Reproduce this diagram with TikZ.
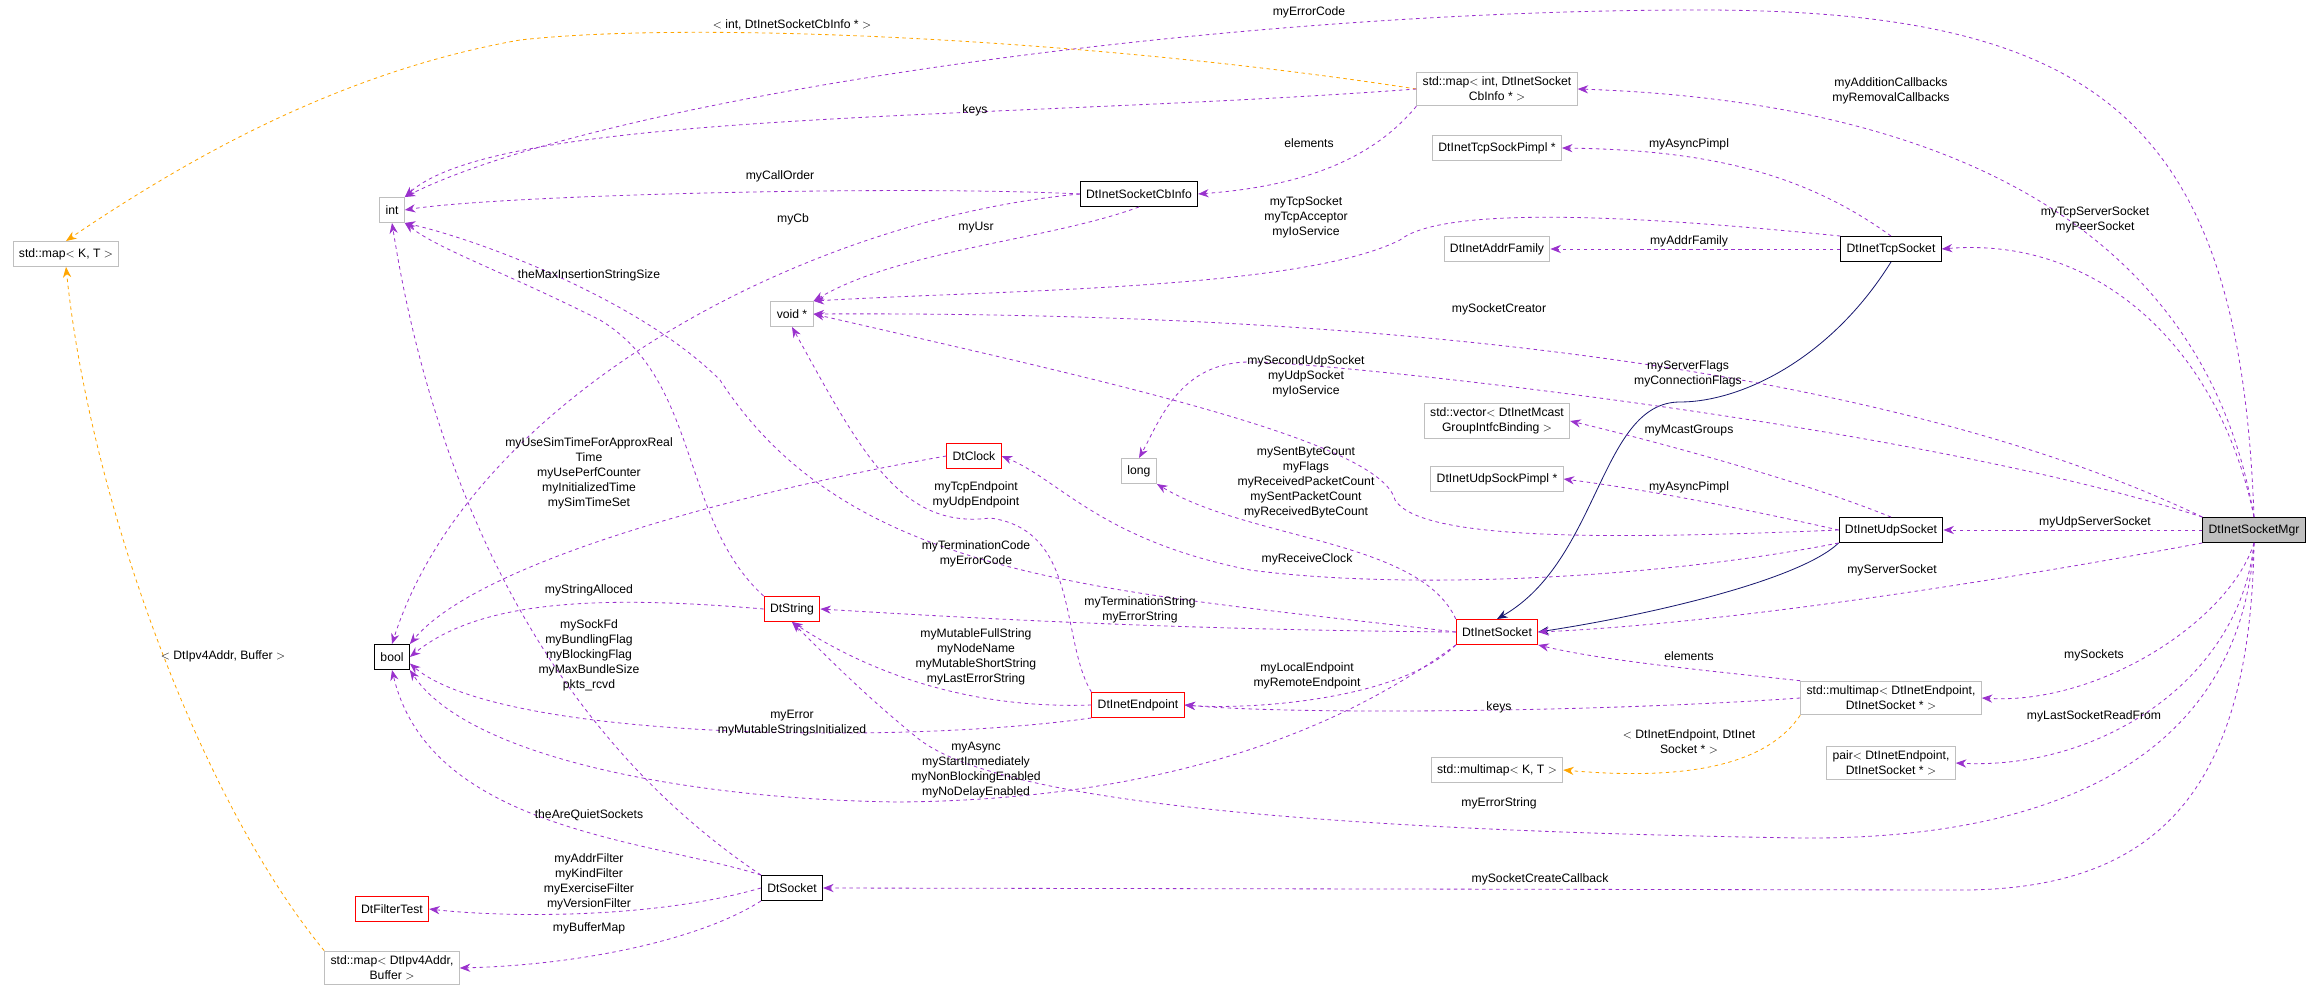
\documentclass[tikz,border=0pt]{standalone}
\usepackage{fontspec}
\setmainfont{Liberation Sans}
\usetikzlibrary{arrows.meta}
\definecolor{usecol}{HTML}{9A32CD}
\definecolor{tmplcol}{HTML}{FFA500}
\definecolor{inhcol}{HTML}{191970}
\definecolor{boxgray}{HTML}{BFBFBF}
\tikzset{
  cls/.style={draw, rectangle, font=\fontsize{10.4}{12.8}\selectfont, inner xsep=5pt, inner ysep=4pt, minimum height=0.75cm, align=center, fill=white, line width=0.8pt},
  ext/.style={cls, draw=boxgray},
  bad/.style={cls, draw=red},
  ok/.style={cls, draw=black},
  lbl/.style={font=\fontsize{10.4}{12.8}\selectfont, align=center, inner sep=0pt},
  use/.style={usecol, dashed, line width=0.7pt, -{Stealth[length=9pt,width=7pt]}},
  tmpl/.style={tmplcol, dashed, line width=0.7pt, -{Stealth[length=9pt,width=7pt]}},
  inh/.style={inhcol, line width=0.7pt, -{Stealth[length=9pt,width=7pt]}}
}
\begin{document}
\begin{tikzpicture}[x=0.03cm, y=-0.03cm]
    \useasboundingbox (0,0) rectangle (2317,993);
    % classes
    \node[cls, fill=boxgray] (mgr) at (2254,530) {DtInetSocketMgr};
    \node[ext] (mapkt) at (66,254) {std::map$<$ K, T $>$};
    \node[ext] (mapint) at (1497,89) {std::map$<$ int, DtInetSocket\\CbInfo * $>$};
    \node[ext] (int) at (392,210) {int};
    \node[ok] (cbinfo) at (1139,194) {DtInetSocketCbInfo};
    \node[ext] (tcppimpl) at (1497,148) {DtInetTcpSockPimpl *};
    \node[ext] (addrfam) at (1497,249) {DtInetAddrFamily};
    \node[ok] (tcp) at (1891,249) {DtInetTcpSocket};
    \node[ext] (void) at (792,314) {void *};
    \node[ext] (long) at (1139,471) {long};
    \node[ext] (vec) at (1497,421) {std::vector$<$ DtInetMcast\\GroupIntfcBinding $>$};
    \node[ext] (udppimpl) at (1497,479) {DtInetUdpSockPimpl *};
    \node[ok] (udp) at (1891,530) {DtInetUdpSocket};
    \node[bad] (clock) at (974,456) {DtClock};
    \node[ok] (bool) at (392,657) {bool};
    \node[bad] (str) at (792,609) {DtString};
    \node[bad] (sock) at (1497,632) {DtInetSocket};
    \node[bad] (endp) at (1138,705) {DtInetEndpoint};
    \node[ext] (mmap) at (1891,698) {std::multimap$<$ DtInetEndpoint,\\DtInetSocket * $>$};
    \node[ext] (mmapkt) at (1497,770) {std::multimap$<$ K, T $>$};
    \node[ext] (pair) at (1891,763) {pair$<$ DtInetEndpoint,\\DtInetSocket * $>$};
    \node[ok] (dtsock) at (792,888) {DtSocket};
    \node[bad] (filt) at (392,909) {DtFilterTest};
    \node[ext] (mapip) at (392,968) {std::map$<$ DtIpv4Addr,\\Buffer $>$};
    % inheritance
    \draw[inh] (tcp.south) .. controls (1830,360) and (1740,402) .. (1680,402) .. controls (1600,402) and (1600,560) .. (sock.north);
    \draw[inh] (udp.south west) .. controls (1800,580) and (1650,615) .. (sock.east);
    % templates
    \draw[tmpl] (mapint.west) .. controls (1100,40) and (700,20) .. (520,40) .. controls (350,70) and (200,150) .. (mapkt.north);
    \draw[tmpl] (mapip.north west) .. controls (200,800) and (90,500) .. (mapkt.south);
    \draw[tmpl] (mmap.south west) .. controls (1770,760) and (1700,782) .. (mmapkt.east);
    \node[lbl] (l1) at (792,25) {$<$ int, DtInetSocketCbInfo * $>$};
    \node[lbl] (l2) at (223,656) {$<$ DtIpv4Addr, Buffer $>$};
    \node[lbl] (l3) at (1689,742) {$<$ DtInetEndpoint, DtInet\\Socket * $>$};
    % members of DtInetSocketMgr
    \draw[use] (mgr.north) .. controls (2240,120) and (2100,10) .. (1700,10) .. controls (1200,10) and (600,100) .. (int.north east);
    \draw[use] (mgr.north) .. controls (2200,200) and (1900,100) .. (mapint.east);
    \draw[use] (mgr.north) .. controls (2220,350) and (2100,236) .. (tcp.east);
    \draw[use] (mgr.north west) .. controls (2000,420) and (1600,310) .. (void.east);
    \draw[use] (mgr.north west) .. controls (1900,420) and (1300,360) .. (1250,362) .. controls (1180,362) and (1160,420) .. (long.north);
    \draw[use] (mgr.west) -- (udp.east);
    \draw[use] (mgr.south west) .. controls (1950,590) and (1700,625) .. (sock.east);
    \draw[use] (mgr.south) .. controls (2230,620) and (2100,705) .. (mmap.east);
    \draw[use] (mgr.south) .. controls (2240,680) and (2100,770) .. (pair.east);
    \draw[use] (mgr.south) .. controls (2240,760) and (2050,840) .. (1800,838) .. controls (1300,830) and (1000,800) .. (920,740) .. controls (870,700) and (830,660) .. (str.south);
    \draw[use] (mgr.south) .. controls (2250,800) and (2150,893) .. (1950,890) -- (dtsock.east);
    \node[lbl] (m1) at (1309,12) {myErrorCode};
    \node[lbl] (m2) at (1891,91) {myAdditionCallbacks\\myRemovalCallbacks};
    \node[lbl] (m3) at (2095,220) {myTcpServerSocket\\myPeerSocket};
    \node[lbl] (m4) at (1499,309) {mySocketCreator};
    \node[lbl] (m5) at (1688,374) {myServerFlags\\myConnectionFlags};
    \node[lbl] (m6) at (2095,522) {myUdpServerSocket};
    \node[lbl] (m7) at (1892,570) {myServerSocket};
    \node[lbl] (m8) at (2094,655) {mySockets};
    \node[lbl] (m9) at (2094,716) {myLastSocketReadFrom};
    \node[lbl] (m10) at (1499,803) {myErrorString};
    \node[lbl] (m11) at (1540,879) {mySocketCreateCallback};
    % map< int, ... >
    \draw[use] (mapint.west) .. controls (1000,120) and (500,110) .. (int.north east);
    \draw[use] (mapint.south west) .. controls (1380,150) and (1320,185) .. (cbinfo.east);
    \node[lbl] (k1) at (975,110) {keys};
    \node[lbl] (e1) at (1309,143) {elements};
    % DtInetSocketCbInfo
    \draw[use] (cbinfo.west) .. controls (900,185) and (500,195) .. (int.east);
    \draw[use] (cbinfo.west) .. controls (800,220) and (470,400) .. (bool.north);
    \draw[use] (cbinfo.south) .. controls (1050,240) and (900,250) .. (void.north east);
    \node[lbl] (c1) at (780,176) {myCallOrder};
    \node[lbl] (c2) at (793,219) {myCb};
    \node[lbl] (c3) at (976,228) {myUsr};
    % DtInetTcpSocket
    \draw[use] (tcp.north) .. controls (1800,170) and (1700,150) .. (tcppimpl.east);
    \draw[use] (tcp.west) -- (addrfam.east);
    \draw[use] (tcp.north west) .. controls (1700,222) and (1450,200) .. (1400,240) .. controls (1300,290) and (1000,290) .. (void.north east);
    \node[lbl] (t1) at (1689,144) {myAsyncPimpl};
    \node[lbl] (t2) at (1689,241) {myAddrFamily};
    \node[lbl] (t3) at (1306,217) {myTcpSocket\\myTcpAcceptor\\myIoService};
    % DtInetUdpSocket
    \draw[use] (udp.north) .. controls (1800,480) and (1650,440) .. (vec.east);
    \draw[use] (udp.west) .. controls (1750,510) and (1650,490) .. (udppimpl.east);
    \draw[use] (udp.west) .. controls (1600,540) and (1420,540) .. (1395,500) .. controls (1380,440) and (1100,380) .. (void.east);
    \draw[use] (udp.south west) .. controls (1650,580) and (1400,590) .. (1250,570) .. controls (1100,540) and (1060,480) .. (clock.east);
    \node[lbl] (u1) at (1689,431) {myMcastGroups};
    \node[lbl] (u2) at (1689,487) {myAsyncPimpl};
    \node[lbl] (u3) at (1306,376) {mySecondUdpSocket\\myUdpSocket\\myIoService};
    \node[lbl] (u4) at (1307,559) {myReceiveClock};
    % DtInetSocket
    \draw[use] (sock.north west) .. controls (1420,540) and (1250,540) .. (long.south east);
    \draw[use] (sock.west) .. controls (1100,590) and (850,580) .. (720,380) .. controls (640,300) and (480,240) .. (int.south east);
    \draw[use] (sock.west) .. controls (1200,630) and (1000,620) .. (str.east);
    \draw[use] (sock.south west) .. controls (1400,700) and (1250,710) .. (endp.east);
    \draw[use] (sock.south west) .. controls (1300,760) and (1100,800) .. (900,802) .. controls (700,800) and (470,760) .. (bool.south east);
    \node[lbl] (s1) at (1306,483) {mySentByteCount\\myFlags\\myReceivedPacketCount\\mySentPacketCount\\myReceivedByteCount};
    \node[lbl] (s2) at (976,554) {myTerminationCode\\myErrorCode};
    \node[lbl] (s3) at (1140,610) {myTerminationString\\myErrorString};
    \node[lbl] (s4) at (1307,676) {myLocalEndpoint\\myRemoteEndpoint};
    \node[lbl] (s5) at (976,770) {myAsync\\myStartImmediately\\myNonBlockingEnabled\\myNoDelayEnabled};
    % std::multimap< DtInetEndpoint, ... >
    \draw[use] (mmap.north west) .. controls (1700,670) and (1600,660) .. (sock.south east);
    \draw[use] (mmap.west) .. controls (1600,712) and (1300,715) .. (endp.east);
    \node[lbl] (e2) at (1689,656) {elements};
    \node[lbl] (k2) at (1499,707) {keys};
    % DtInetEndpoint
    \draw[use] (endp.north west) .. controls (1060,640) and (1080,530) .. (990,518) .. controls (900,530) and (860,450) .. (void.south);
    \draw[use] (endp.west) .. controls (950,710) and (850,660) .. (str.south);
    \draw[use] (endp.south west) .. controls (900,745) and (500,740) .. (bool.-20);
    \node[lbl] (d1) at (976,495) {myTcpEndpoint\\myUdpEndpoint};
    \node[lbl] (d2) at (976,657) {myMutableFullString\\myNodeName\\myMutableShortString\\myLastErrorString};
    \node[lbl] (d3) at (792,723) {myError\\myMutableStringsInitialized};
    % DtClock
    \draw[use] (clock.west) .. controls (750,490) and (480,560) .. (bool.north east);
    \node[lbl] (k3) at (589,473) {myUseSimTimeForApproxReal\\Time\\myUsePerfCounter\\myInitializedTime\\mySimTimeSet};
    % DtString
    \draw[use] (str.north west) .. controls (680,520) and (700,380) .. (600,320) .. controls (500,270) and (440,250) .. (int.south east);
    \draw[use] (str.west) .. controls (600,595) and (480,600) .. (bool.east);
    \node[lbl] (r1) at (589,275) {theMaxInsertionStringSize};
    \node[lbl] (r2) at (589,590) {myStringAlloced};
    % DtSocket
    \draw[use] (dtsock.north west) .. controls (500,700) and (420,400) .. (int.south);
    \draw[use] (dtsock.north west) .. controls (650,840) and (430,830) .. (bool.south);
    \draw[use] (dtsock.west) .. controls (650,920) and (500,917) .. (filt.east);
    \draw[use] (dtsock.south west) .. controls (700,940) and (580,965) .. (mapip.east);
    \node[lbl] (o1) at (589,655) {mySockFd\\myBundlingFlag\\myBlockingFlag\\myMaxBundleSize\\pkts\_rcvd};
    \node[lbl] (o2) at (589,815) {theAreQuietSockets};
    \node[lbl] (o3) at (589,882) {myAddrFilter\\myKindFilter\\myExerciseFilter\\myVersionFilter};
    \node[lbl] (o4) at (589,928) {myBufferMap};
\end{tikzpicture}
\end{document}
